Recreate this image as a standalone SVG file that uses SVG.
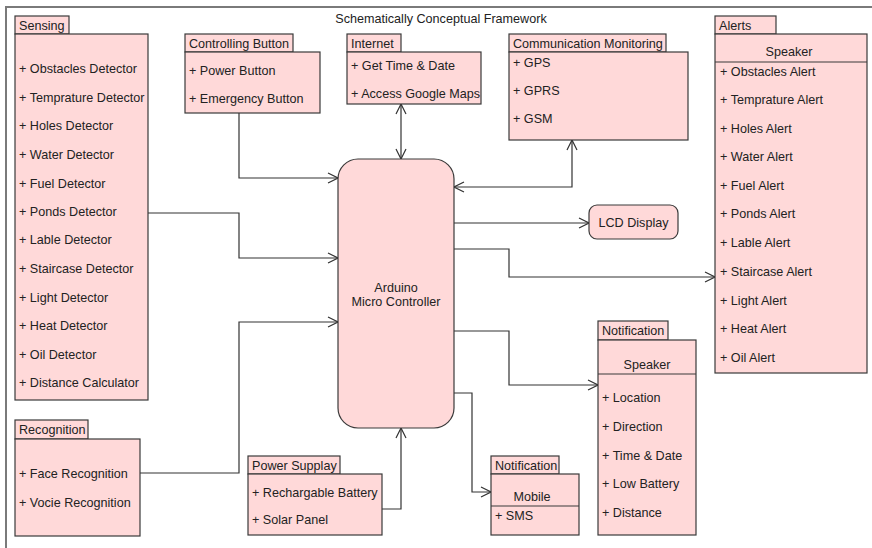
<svg xmlns="http://www.w3.org/2000/svg" width="872" height="548" viewBox="0 0 872 548">
  <style>
    .box { fill: #ffd9d9; stroke: #3a3a3a; stroke-width: 1.2; }
    .t { font-family: "Liberation Sans", Arial, sans-serif; font-size: 12.6px; fill: #222; }
    .c { text-anchor: middle; }
    .wire { fill: none; stroke: #333; stroke-width: 1.2; }
    .frame { fill: none; stroke: #7a7a7a; stroke-width: 2; }
  </style>
  <defs>
    <marker id="arr" viewBox="0 0 12 12" refX="11" refY="6" markerWidth="12" markerHeight="12" markerUnits="userSpaceOnUse" orient="auto-start-reverse">
      <path d="M1,1 L11,6 L1,11" fill="none" stroke="#333" stroke-width="1.2"/>
    </marker>
  </defs>

  <rect width="872" height="548" fill="#ffffff"/>
  <!-- frame -->
  <path class="frame" d="M6,548 L6,7 L872,7"/>
  <text class="t c" x="441" y="22.5">Schematically Conceptual Framework</text>

  <!-- connectors -->
  <g id="connectors">
    <path class="wire" d="M239,113 L239,178 L338,178" marker-end="url(#arr)"/>
    <path class="wire" d="M401,104 L401,159" marker-start="url(#arr)" marker-end="url(#arr)"/>
    <path class="wire" d="M454,187 L572,187 L572,140" marker-start="url(#arr)" marker-end="url(#arr)"/>
    <path class="wire" d="M454,223 L589,223" marker-end="url(#arr)"/>
    <path class="wire" d="M454,249 L509,249 L509,277 L715,277" marker-end="url(#arr)"/>
    <path class="wire" d="M454,331 L509,331 L509,385 L598,385" marker-end="url(#arr)"/>
    <path class="wire" d="M454,393 L472,393 L472,492 L491,492" marker-end="url(#arr)"/>
    <path class="wire" d="M382,509 L401,509 L401,428" marker-end="url(#arr)"/>
    <path class="wire" d="M148,213 L239,213 L239,258 L338,258" marker-end="url(#arr)"/>
    <path class="wire" d="M140,473 L239,473 L239,322 L338,322" marker-end="url(#arr)"/>
  </g>

  <!-- Sensing -->
  <g id="sensing">
    <rect class="box" x="15" y="16" width="54" height="18"/>
    <rect class="box" x="15" y="34" width="133" height="366"/>
    <text class="t" x="19" y="29.5">Sensing</text>
    <text class="t" x="19" y="72.5">+ Obstacles Detector</text>
    <text class="t" x="19" y="101.5">+ Temprature Detector</text>
    <text class="t" x="19" y="129.5">+ Holes Detector</text>
    <text class="t" x="19" y="158.5">+ Water Detector</text>
    <text class="t" x="19" y="187.5">+ Fuel Detector</text>
    <text class="t" x="19" y="215.5">+ Ponds Detector</text>
    <text class="t" x="19" y="243.5">+ Lable Detector</text>
    <text class="t" x="19" y="272.5">+ Staircase Detector</text>
    <text class="t" x="19" y="301.5">+ Light Detector</text>
    <text class="t" x="19" y="329.5">+ Heat Detector</text>
    <text class="t" x="19" y="358.5">+ Oil Detector</text>
    <text class="t" x="19" y="386.5">+ Distance Calculator</text>
  </g>

  <!-- Controlling Button -->
  <g id="controlling-button">
    <rect class="box" x="185" y="34" width="108" height="18"/>
    <rect class="box" x="185" y="52" width="135" height="61"/>
    <text class="t" x="189" y="47.5">Controlling Button</text>
    <text class="t" x="189" y="74.5">+ Power Button</text>
    <text class="t" x="189" y="102.5">+ Emergency Button</text>
  </g>

  <!-- Internet -->
  <g id="internet">
    <rect class="box" x="347" y="34" width="54" height="18"/>
    <rect class="box" x="347" y="52" width="134" height="52"/>
    <text class="t" x="351" y="47.5">Internet</text>
    <text class="t" x="351" y="69.5">+ Get Time &amp; Date</text>
    <text class="t" x="351" y="97.5">+ Access Google Maps</text>
  </g>

  <!-- Communication Monitoring -->
  <g id="communication-monitoring">
    <rect class="box" x="509" y="34" width="157" height="18"/>
    <rect class="box" x="509" y="52" width="179" height="88"/>
    <text class="t" x="513" y="47.5">Communication Monitoring</text>
    <text class="t" x="513" y="66.5">+ GPS</text>
    <text class="t" x="513" y="94.5">+ GPRS</text>
    <text class="t" x="513" y="122.5">+ GSM</text>
  </g>

  <!-- Alerts -->
  <g id="alerts">
    <rect class="box" x="715" y="16" width="61" height="18"/>
    <rect class="box" x="715" y="34" width="152" height="339"/>
    <line x1="715" y1="62" x2="867" y2="62" stroke="#3a3a3a" stroke-width="1.2"/>
    <text class="t" x="719" y="29.5">Alerts</text>
    <text class="t c" x="789" y="55.5">Speaker</text>
    <text class="t" x="720" y="75.5">+ Obstacles Alert</text>
    <text class="t" x="720" y="103.5">+ Temprature Alert</text>
    <text class="t" x="720" y="132.5">+ Holes Alert</text>
    <text class="t" x="720" y="160.5">+ Water Alert</text>
    <text class="t" x="720" y="189.5">+ Fuel Alert</text>
    <text class="t" x="720" y="217.5">+ Ponds Alert</text>
    <text class="t" x="720" y="246.5">+ Lable Alert</text>
    <text class="t" x="720" y="275.5">+ Staircase Alert</text>
    <text class="t" x="720" y="304.5">+ Light Alert</text>
    <text class="t" x="720" y="332.5">+ Heat Alert</text>
    <text class="t" x="720" y="361.5">+ Oil Alert</text>
  </g>

  <!-- Arduino -->
  <g id="arduino">
    <rect class="box" x="338" y="159" width="116" height="269" rx="20" ry="20"/>
    <text class="t c" x="396" y="291.5">Arduino</text>
    <text class="t c" x="396" y="305.5">Micro Controller</text>
  </g>

  <!-- LCD Display -->
  <g id="lcd-display">
    <rect class="box" x="589" y="205" width="89" height="34" rx="8" ry="8"/>
    <text class="t c" x="633.5" y="226.5">LCD Display</text>
  </g>

  <!-- Notification: Speaker -->
  <g id="notification-speaker">
    <rect class="box" x="598" y="321" width="70" height="19"/>
    <rect class="box" x="598" y="340" width="98" height="195"/>
    <line x1="598" y1="374" x2="696" y2="374" stroke="#3a3a3a" stroke-width="1.2"/>
    <text class="t" x="602" y="335">Notification</text>
    <text class="t c" x="647" y="368.5">Speaker</text>
    <text class="t" x="602" y="401.5">+ Location</text>
    <text class="t" x="602" y="430.5">+ Direction</text>
    <text class="t" x="602" y="459.5">+ Time &amp; Date</text>
    <text class="t" x="602" y="487.5">+ Low Battery</text>
    <text class="t" x="602" y="516.5">+ Distance</text>
  </g>

  <!-- Notification: Mobile -->
  <g id="notification-mobile">
    <rect class="box" x="491" y="456" width="68" height="18"/>
    <rect class="box" x="491" y="474" width="88" height="61"/>
    <line x1="491" y1="506" x2="579" y2="506" stroke="#3a3a3a" stroke-width="1.2"/>
    <text class="t" x="495" y="469.5">Notification</text>
    <text class="t c" x="532" y="500.5">Mobile</text>
    <text class="t" x="495" y="519.5">+ SMS</text>
  </g>

  <!-- Power Supplay -->
  <g id="power-supply">
    <rect class="box" x="248" y="456" width="92" height="18"/>
    <rect class="box" x="248" y="474" width="134" height="61"/>
    <text class="t" x="252" y="469.5">Power Supplay</text>
    <text class="t" x="252" y="496.5">+ Rechargable Battery</text>
    <text class="t" x="252" y="523.5">+ Solar Panel</text>
  </g>

  <!-- Recognition -->
  <g id="recognition">
    <rect class="box" x="15" y="420" width="73" height="19"/>
    <rect class="box" x="15" y="439" width="125" height="97"/>
    <text class="t" x="19" y="434">Recognition</text>
    <text class="t" x="19" y="477.5">+ Face Recognition</text>
    <text class="t" x="19" y="506.5">+ Vocie Recognition</text>
  </g>
</svg>
